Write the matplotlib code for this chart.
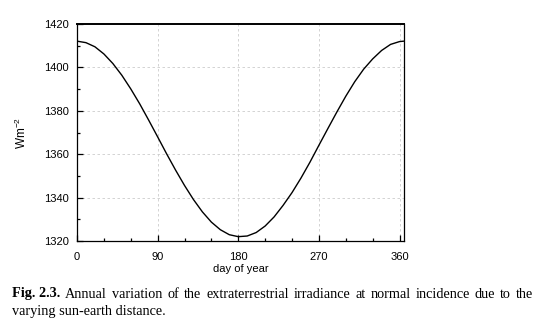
import matplotlib
matplotlib.use("Agg")
import matplotlib.pyplot as plt
from matplotlib.ticker import MultipleLocator

# values
days = [0, 10, 20, 30, 40, 50, 60, 70, 80, 90, 100, 110, 120, 130, 140, 150, 160, 170, 180,
        190, 200, 210, 220, 230, 240, 250, 260, 270, 280, 290, 300, 310, 320, 330, 340, 350, 360, 365]
irradiance = [1412.1, 1411.4, 1409.5, 1406.2, 1401.8, 1396.4, 1390.1, 1383.2, 1375.7, 1368.0,
              1360.2, 1352.7, 1345.6, 1339.1, 1333.4, 1328.7, 1325.2, 1322.9, 1322.0,
              1322.3, 1323.9, 1326.9, 1331.1, 1336.4, 1342.3, 1349.0, 1356.3, 1364.1, 1371.8,
              1379.4, 1386.7, 1393.4, 1399.2, 1403.9, 1407.8, 1410.6, 1411.9, 1412.1]
xticks = [0, 90, 180, 270, 360]
yticks = [1320, 1340, 1360, 1380, 1400, 1420]

caption_label = 'Fig. 2.3.'
caption_line1 = 'Annual variation of the extraterrestrial irradiance at normal incidence due to the'
caption_line2 = 'varying sun-earth distance.'

plt.rcParams['font.family'] = ['Liberation Sans', 'DejaVu Sans']

fig = plt.figure(figsize=(5.56, 3.27), dpi=100)
ax = fig.add_axes([77 / 556, 1 - 241 / 327, 327 / 556, 217 / 327])

ax.plot(days, irradiance, color='black', linewidth=1.0)

ax.set_xlim(0, 365)
ax.set_ylim(1320, 1420)
ax.set_xticks(xticks)
ax.set_yticks(yticks)
ax.xaxis.set_minor_locator(MultipleLocator(30))
ax.yaxis.set_minor_locator(MultipleLocator(10))
ax.tick_params(which='both', direction='in', top=False, right=False, labelsize=8, colors='black')
ax.tick_params(which='major', length=4.5, width=0.9, pad=6)
ax.tick_params(axis='x', which='major', pad=8)
ax.tick_params(which='minor', length=2.5, width=0.9)

ax.grid(True, which='major', color='#cccccc', linestyle=(0, (3, 3)), linewidth=0.6)

for side in ['left', 'bottom', 'right']:
    ax.spines[side].set_linewidth(0.9)
ax.spines['top'].set_linewidth(1.4)

ax.set_xlabel('day of year', fontsize=8, labelpad=1)
ax.set_ylabel('Wm$^{\\mathregular{-2}}$', fontsize=8.5, labelpad=11)

# caption, first line justified between x0 and x1
x0, x1 = 12, 533
y1, y2 = 1 - 294 / 327, 1 - 311 / 327
fig.canvas.draw()
renderer = fig.canvas.get_renderer()
words = [(caption_label, 'bold')] + [(w, 'normal') for w in caption_line1.split()]
items = []
for w, weight in words:
    t = fig.text(0, y1, w, fontsize=10.3, fontweight=weight, family='Liberation Serif', va='center')
    items.append((t, t.get_window_extent(renderer).width))
total = sum(wd for _, wd in items)
gap = (x1 - x0 - total) / (len(items) - 1)
x = x0
for t, wd in items:
    t.set_x(x / 556)
    x += wd + gap
fig.text(x0 / 556, y2, caption_line2, fontsize=10.3, family='Liberation Serif', va='center')

fig.savefig('out.png', dpi=100)
